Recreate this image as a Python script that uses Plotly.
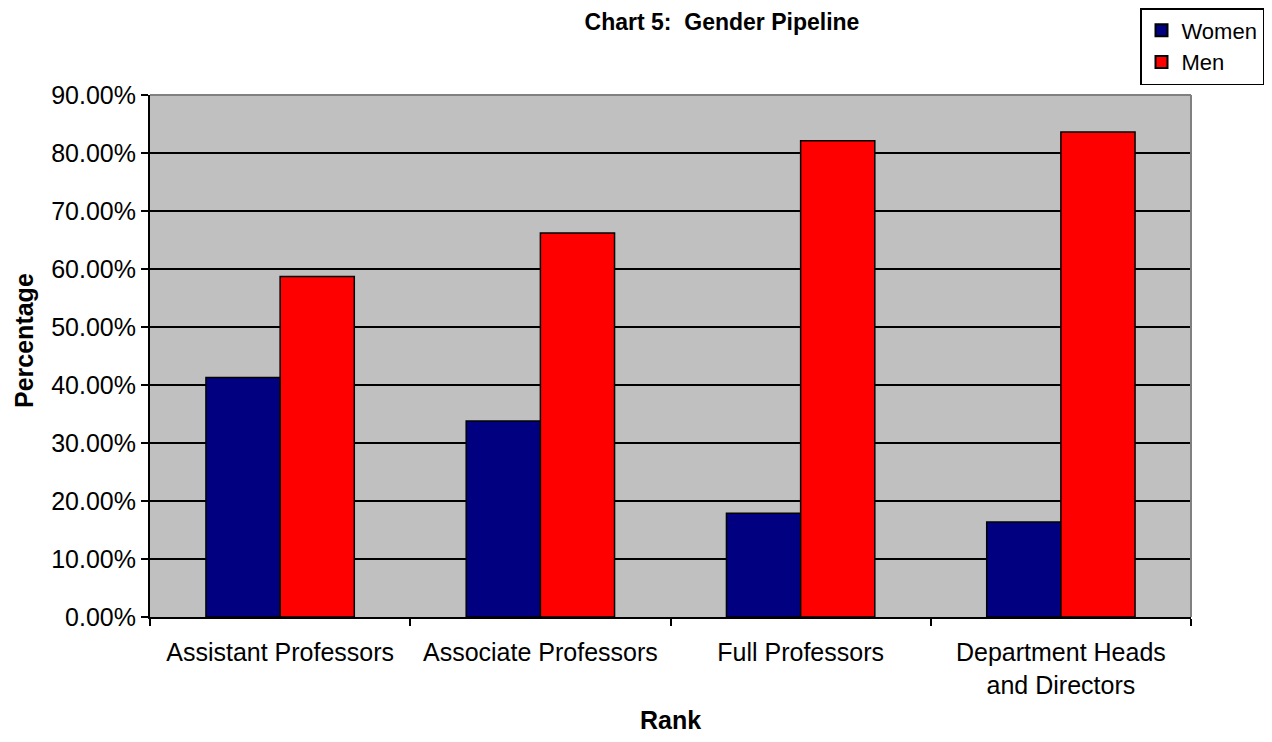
import plotly.graph_objects as go

categories = ["Assistant Professors", "Associate Professors", "Full Professors",
              "Department Heads<br>and Directors"]
women = [0.413, 0.338, 0.179, 0.164]
men = [0.587, 0.662, 0.821, 0.836]
y_ticks = [0, 0.1, 0.2, 0.3, 0.4, 0.5, 0.6, 0.7, 0.8, 0.9]
y_tick_labels = ["0.00%", "10.00%", "20.00%", "30.00%", "40.00%", "50.00%",
                 "60.00%", "70.00%", "80.00%", "90.00%"]

FONT = "Liberation Sans, Arial, sans-serif"
W, H = 1256, 726
ML, MR, MT, MB = 142, 73, 87, 117

fig = go.Figure()
fig.add_trace(go.Bar(x=categories, y=women, name="Women",
                     marker=dict(color="#000080", line=dict(color="black", width=1.5))))
fig.add_trace(go.Bar(x=categories, y=men, name="Men",
                     marker=dict(color="#FF0000", line=dict(color="black", width=1.5))))

fig.update_layout(
    width=W, height=H,
    margin=dict(l=ML, r=MR, t=MT, b=MB, autoexpand=False),
    paper_bgcolor="white",
    plot_bgcolor="#C0C0C0",
    barmode="group", bargap=0.43, bargroupgap=0,
    font=dict(family=FONT, size=24, color="black"),
    title=dict(text="<b>Chart 5:  Gender Pipeline</b>", x=714 / W, xref="container",
               xanchor="center", y=1 - 14 / H, yref="container", yanchor="middle",
               font=dict(family=FONT, size=23, color="black")),
    legend=dict(xref="container", yref="container", x=1, xanchor="right",
                y=1, yanchor="top", bordercolor="black", borderwidth=1.5,
                bgcolor="white", font=dict(size=22), itemsizing="constant"),
    showlegend=True,
)
fig.update_xaxes(
    type="category", tickson="boundaries", ticks="outside", ticklen=7,
    tickcolor="black", tickwidth=2, showline=True, linecolor="black", linewidth=2,
    showgrid=False, ticklabelstandoff=12,
    title=dict(text="<b>Rank</b>", font=dict(size=25), standoff=25),
    tickfont=dict(size=25),
)
fig.update_yaxes(
    range=[0, 0.9], tickvals=y_ticks, ticktext=y_tick_labels, ticks="outside",
    ticklen=7, tickcolor="black", tickwidth=2, showline=True, linecolor="black",
    linewidth=2, showgrid=True, gridcolor="black", gridwidth=2, zeroline=False,
    tickfont=dict(size=25),
)
# y-axis title placed as an annotation (slightly above plot centre, as in the original)
plot_h = H - MT - MB
fig.add_annotation(text="<b>Percentage</b>", textangle=-90, showarrow=False,
                   xref="paper", yref="paper", x=0, xanchor="center",
                   xshift=16 - ML, y=(H - MB - 333) / plot_h, yanchor="middle",
                   font=dict(size=25))
# gray frame on top and right of the plot area
fig.add_shape(type="line", xref="paper", yref="paper", x0=0, x1=1, y0=1, y1=1,
              line=dict(color="#808080", width=2))
fig.add_shape(type="line", xref="paper", yref="paper", x0=1, x1=1, y0=0, y1=1,
              line=dict(color="#808080", width=2))

fig.write_html("out.html")
